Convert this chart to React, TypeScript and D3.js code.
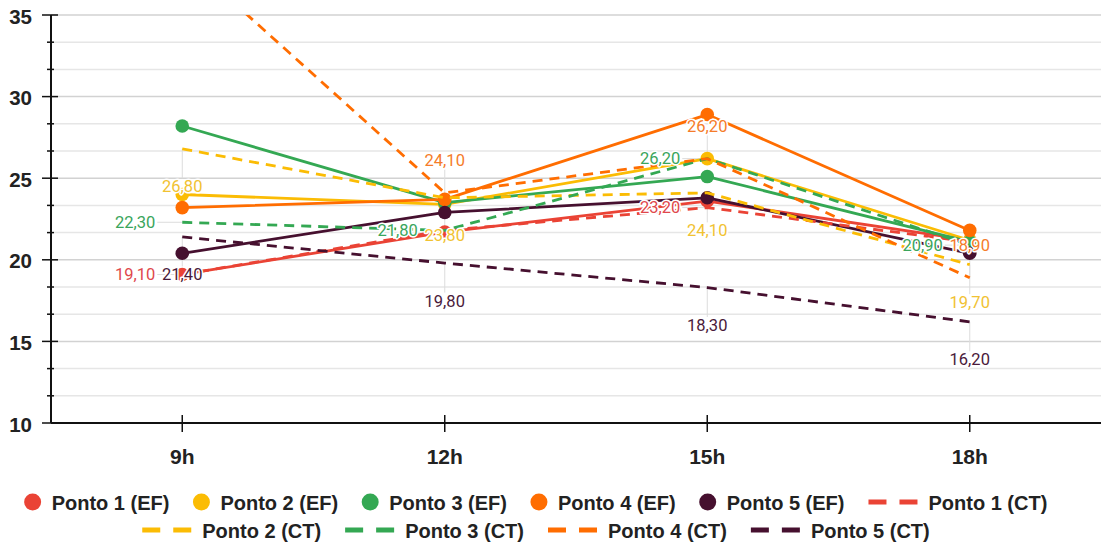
import React, { useEffect, useRef } from 'react';
import * as d3 from 'd3';

const hours = ['9h', '12h', '15h', '18h'];
const pointNames = ['Ponto 1', 'Ponto 2', 'Ponto 3', 'Ponto 4', 'Ponto 5'];
const colors = ['#EA4335', '#FBBC04', '#34A853', '#FF6D01', '#46102F'];
const labelColors = ['#E0474C', '#F1C232', '#3AA55C', '#F57C2A', '#4A1A3A'];

const ef1 = [19.1, 21.7, 23.6, 21.2];
const ef2 = [24.0, 23.4, 26.2, 21.2];
const ef3 = [28.2, 23.5, 25.1, 21.1];
const ef4 = [23.2, 23.7, 28.9, 21.8];
const ef5 = [20.4, 22.9, 23.8, 20.4];

const ct1 = [19.1, 21.8, 23.2, 21.1];
const ct2 = [26.8, 23.8, 24.1, 19.7];
const ct3 = [22.3, 21.8, 26.2, 20.9];
const ct4 = [38.6, 24.1, 26.2, 18.9];
const ct5 = [21.4, 19.8, 18.3, 16.2];

const yTickLabels = [10, 15, 20, 25, 30, 35];
const labelPlacement = ['left', 'bottom', 'left', 'top', 'bottom'];

const efSeries = [ef1, ef2, ef3, ef4, ef5];
const ctSeries = [ct1, ct2, ct3, ct4, ct5];

const fmt = (v: number) => v.toFixed(2).replace('.', ',');

export default function App() {
  const ref = useRef<SVGSVGElement>(null);

  useEffect(() => {
    const svg = d3.select(ref.current);
    svg.selectAll('*').remove();
    const left = 51, right = 1101, top = 15, bottom = 423;
    const x = d3.scalePoint<string>().domain(hours).range([left, right]).padding(0.5);
    const y = d3.scaleLinear().domain([10, 35]).range([bottom, top]);
    const boldFont = 'Liberation Sans, Arial, sans-serif';

    const defs = svg.append('defs');
    defs.append('clipPath').attr('id', 'plotclip').append('rect')
      .attr('x', left).attr('y', top).attr('width', right - left).attr('height', bottom - top);

    // grid + y ticks
    const grid = svg.append('g');
    const gridVals = d3.range(0, 16).map(i => 10 + (i * 5) / 3);
    gridVals.forEach((v, i) => {
      const major = i % 3 === 0;
      if (i > 0) {
        grid.append('line')
          .attr('x1', left).attr('x2', right)
          .attr('y1', y(v)).attr('y2', y(v))
          .attr('stroke', major ? '#d2d2d2' : '#e6e6e6')
          .attr('stroke-width', 1.5);
      }
      grid.append('line')
        .attr('x1', major ? left - 9 : left - 4).attr('x2', major ? left + 7 : left + 3)
        .attr('y1', y(v)).attr('y2', y(v))
        .attr('stroke', '#111').attr('stroke-width', 1.5);
    });

    type Lab = { text: string; color: string; cy: number; lx1: number; ly1: number; lx2: number; ly2: number; anchor: string; tx: number };
    const labels: Lab[] = [];
    const placed: { x0: number; x1: number; y0: number; y1: number }[] = [];
    const order = [4, 3, 2, 1, 0];
    const lw = 42, lh = 17;
    order.forEach(s => {
      const data = ctSeries[s];
      data.forEach((v, i) => {
        if (v > 35 || v < 10) return;
        const px = x(hours[i]) as number;
        const py = y(v);
        const p = labelPlacement[s];
        let box, lab: Lab;
        if (p === 'top') {
          const cy = py - 32;
          box = { x0: px - lw / 2, x1: px + lw / 2, y0: cy - lh / 2, y1: cy + lh / 2 };
          lab = { text: fmt(v), color: labelColors[s], cy, lx1: px, ly1: py, lx2: px, ly2: cy + lh / 2, anchor: 'middle', tx: px };
        } else if (p === 'bottom') {
          const cy = py + 38;
          box = { x0: px - lw / 2, x1: px + lw / 2, y0: cy - lh / 2, y1: cy + lh / 2 };
          lab = { text: fmt(v), color: labelColors[s], cy, lx1: px, ly1: py, lx2: px, ly2: cy - lh / 2, anchor: 'middle', tx: px };
        } else {
          const rx = px - 27;
          box = { x0: rx - lw, x1: rx, y0: py - lh / 2, y1: py + lh / 2 };
          lab = { text: fmt(v), color: labelColors[s], cy: py, lx1: px, ly1: py, lx2: rx + 2, ly2: py, anchor: 'end', tx: rx };
        }
        const hit = placed.some(b => !(box.x1 <= b.x0 || box.x0 >= b.x1 || box.y1 <= b.y0 || box.y0 >= b.y1));
        if (hit) return;
        placed.push(box);
        labels.push(lab);
      });
    });

    const leaders = svg.append('g');
    labels.forEach(l => {
      leaders.append('line')
        .attr('x1', l.lx1).attr('y1', l.ly1).attr('x2', l.lx2).attr('y2', l.ly2)
        .attr('stroke', '#dcdcdc').attr('stroke-width', 1);
    });

    // axes
    const axes = svg.append('g');
    axes.append('line').attr('x1', left).attr('x2', left).attr('y1', top).attr('y2', bottom)
      .attr('stroke', '#111').attr('stroke-width', 2);
    axes.append('line').attr('x1', left).attr('x2', right).attr('y1', bottom).attr('y2', bottom)
      .attr('stroke', '#111').attr('stroke-width', 2);
    hours.forEach(h => {
      axes.append('line').attr('x1', x(h) as number).attr('x2', x(h) as number)
        .attr('y1', bottom - 8).attr('y2', bottom + 9)
        .attr('stroke', '#111').attr('stroke-width', 1.5);
      axes.append('text').attr('x', x(h) as number).attr('y', 456)
        .attr('text-anchor', 'middle').attr('dominant-baseline', 'central')
        .attr('font-family', boldFont).attr('font-weight', 'bold')
        .attr('font-size', 21).attr('fill', '#222').text(h);
    });
    yTickLabels.forEach(v => {
      axes.append('text').attr('x', 32).attr('y', y(v) + 1)
        .attr('text-anchor', 'end').attr('dominant-baseline', 'central')
        .attr('font-family', boldFont).attr('font-weight', 'bold')
        .attr('font-size', 20.5).attr('fill', '#222').text(String(v));
    });

    // series
    const lineGen = d3.line<number>().x((_, i) => x(hours[i]) as number).y(v => y(v));
    const plot = svg.append('g').attr('clip-path', 'url(#plotclip)');
    efSeries.forEach((data, s) => {
      plot.append('path').attr('d', lineGen(data) as string).attr('fill', 'none')
        .attr('stroke', colors[s]).attr('stroke-width', 2.8).attr('stroke-linejoin', 'round');
      data.forEach((v, i) => {
        plot.append('circle').attr('cx', x(hours[i]) as number).attr('cy', y(v)).attr('r', 6.8)
          .attr('fill', colors[s]);
      });
    });
    ctSeries.forEach((data, s) => {
      plot.append('path').attr('d', lineGen(data) as string).attr('fill', 'none')
        .attr('stroke', colors[s]).attr('stroke-width', 2.8).attr('stroke-dasharray', '10,7');
    });

    // labels
    const lg = svg.append('g');
    labels.forEach(l => {
      lg.append('text').attr('x', l.tx).attr('y', l.cy)
        .attr('text-anchor', l.anchor).attr('dominant-baseline', 'central')
        .attr('font-family', 'Roboto, sans-serif').attr('font-size', 16.5)
        .attr('fill', l.color).attr('stroke', '#fff').attr('stroke-width', 3)
        .attr('paint-order', 'stroke').attr('stroke-linejoin', 'round').text(l.text);
    });

    // legend
    const items = [
      ...pointNames.map((n, s) => ({ name: `${n} (EF)`, color: colors[s], kind: 'circle' })),
      ...pointNames.map((n, s) => ({ name: `${n} (CT)`, color: colors[s], kind: 'dash' })),
    ];
    const leg = svg.append('g');
    const measured = items.map(it => {
      const t = leg.append('text')
        .attr('font-family', boldFont).attr('font-weight', 'bold')
        .attr('font-size', 20).attr('fill', '#222').attr('dominant-baseline', 'central').text(it.name);
      const tw = (t.node() as SVGTextElement).getComputedTextLength();
      const iw = it.kind === 'circle' ? 16 : 49;
      return { ...it, t, tw, iw, w: iw + 11 + tw };
    });
    const gap = 24, maxW = 1060;
    const rows: typeof measured[] = [];
    let cur: typeof measured = [];
    let cw = 0;
    measured.forEach(m => {
      const add = cur.length ? gap + m.w : m.w;
      if (cw + add > maxW && cur.length) { rows.push(cur); cur = [m]; cw = m.w; }
      else { cur.push(m); cw += add; }
    });
    if (cur.length) rows.push(cur);
    const rowYs = [502, 530];
    const cx = 536;
    rows.forEach((row, r) => {
      const total = d3.sum(row, m => m.w) + gap * (row.length - 1);
      let xx = cx - total / 2;
      const yy = rowYs[r] ?? 502 + r * 28;
      row.forEach(m => {
        if (m.kind === 'circle') {
          leg.append('circle').attr('cx', xx + 8).attr('cy', yy).attr('r', 8.5).attr('fill', m.color);
        } else {
          leg.append('line').attr('x1', xx).attr('x2', xx + 49).attr('y1', yy).attr('y2', yy)
            .attr('stroke', m.color).attr('stroke-width', 5).attr('stroke-dasharray', '18,13');
        }
        m.t.attr('x', xx + m.iw + 11).attr('y', yy + 1);
        xx += m.w + gap;
      });
    });
  }, []);

  return (
    <svg ref={ref} width={1101} height={544}
      style={{ position: 'absolute', left: 0, top: 0, background: '#fff' }} />
  );
}
